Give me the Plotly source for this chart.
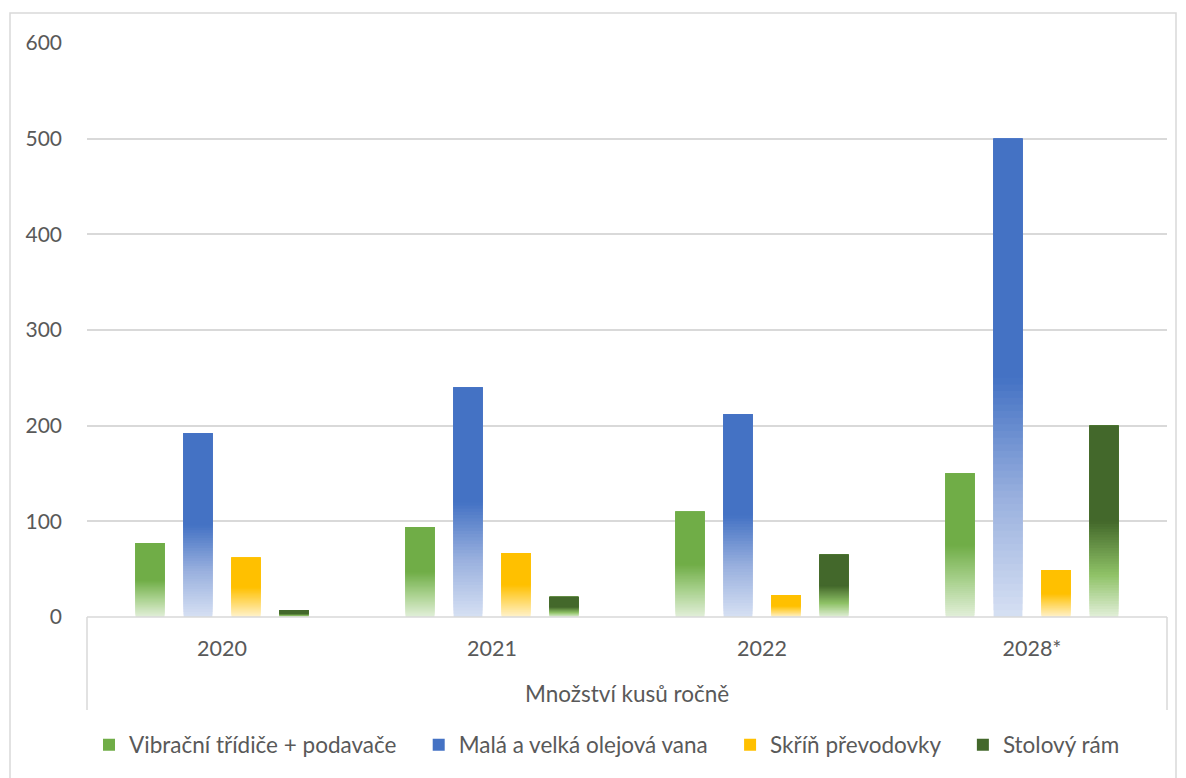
import plotly.graph_objects as go

# Annual quantities (pieces per year)
years = ["2020", "2021", "2022", "2028*"]
vibracni = [77, 94, 110, 150]
olejova_vana = [192, 240, 212, 500]
skrin = [62, 67, 23, 49]
stolovy_ram = [7, 21, 65, 200]
y_ticks = [0, 100, 200, 300, 400, 500, 600]

# name, values, gradient stops (fraction of bar height from the bottom -> colour)
series = [
    ("Vibrační třídiče + podavače", vibracni,
     [(0.0, "#e2efd9"), (0.25, "#a9d18e"), (0.5, "#70ad47")]),
    ("Malá a velká olejová vana", olejova_vana,
     [(0.0, "#d6e0f3"), (0.25, "#99b0de"), (0.5, "#4472c4")]),
    ("Skříň převodovky", skrin,
     [(0.0, "#fff2cc"), (0.25, "#ffd966"), (0.5, "#ffc000")]),
    ("Stolový rám", stolovy_ram,
     [(0.0, "#e2efd9"), (0.22, "#8fc267"), (0.5, "#43682b")]),
]

FONT = "Lato, 'Open Sans', sans-serif"
TEXT = "#595959"
GRID = "#d9d9d9"
STEPS = 36
PAD = "\u00a0" * 3  # extra room between legend entries


def hex_rgb(h):
    h = h.lstrip("#")
    return tuple(int(h[i:i + 2], 16) for i in (0, 2, 4))


def color_at(stops, p):
    for (p0, c0), (p1, c1) in zip(stops, stops[1:]):
        if p <= p1:
            t = (p - p0) / (p1 - p0)
            a, b = hex_rgb(c0), hex_rgb(c1)
            return "rgb(%d,%d,%d)" % tuple(round(x + (y - x) * t) for x, y in zip(a, b))
    return stops[-1][1]


fig = go.Figure()

for gi, (name, vals, stops) in enumerate(series):
    solid_from = stops[-1][0]
    # overlapping bars, each starting a little higher, build the vertical fade
    for k in range(STEPS):
        p = solid_from * k / STEPS
        pm = solid_from * (k + 0.5) / STEPS
        fig.add_trace(go.Bar(
            x=years,
            y=[v * (1 - p) for v in vals],
            base=[v * p for v in vals],
            offsetgroup=str(gi),
            marker=dict(color=color_at(stops, pm), line=dict(width=0)),
            showlegend=False,
            hoverinfo="skip",
        ))
    label = name + (PAD if gi < len(series) - 1 else "")
    fig.add_trace(go.Bar(
        x=years,
        y=[v * (1 - solid_from) for v in vals],
        base=[v * solid_from for v in vals],
        offsetgroup=str(gi),
        name=label,
        marker=dict(color=stops[-1][1], line=dict(width=0)),
        customdata=vals,
        hovertemplate="%{x}: %{customdata}<extra>" + name + "</extra>",
    ))

L, R, T, B = 87, 19, 43, 161
W, H = 1186, 778
plot_h = H - T - B


def py(px_y):
    return (H - B - px_y) / plot_h


def px(px_x):
    return (px_x - L) / (W - L - R)


line = dict(color=GRID, width=1.5)
shapes = [
    # outer frame
    dict(type="rect", xref="paper", yref="paper", x0=px(10), x1=px(1176),
         y0=py(790), y1=py(13), line=dict(color=GRID, width=1.5), layer="below"),
    # category axis box sides
    dict(type="line", xref="paper", yref="paper", x0=0, x1=0, y0=0, y1=py(710), line=line),
    dict(type="line", xref="paper", yref="paper", x0=1, x1=1, y0=0, y1=py(710), line=line),
    dict(type="line", xref="paper", yref="paper", x0=0, x1=1, y0=0, y1=0, line=line),
]

fig.update_layout(
    width=W, height=H,
    margin=dict(l=L, r=R, t=T, b=B),
    paper_bgcolor="white", plot_bgcolor="white",
    barmode="group", bargap=0.289, bargroupgap=0.4,
    font=dict(family=FONT, size=21.5, color=TEXT),
    shapes=shapes,
    annotations=[dict(text="Množství kusů ročně", xref="paper", yref="paper",
                      x=0.5, y=py(693), showarrow=False, xanchor="center",
                      yanchor="middle", font=dict(family=FONT, size=22.5, color=TEXT))],
    legend=dict(orientation="h", xanchor="center", x=px(607), yanchor="middle",
                y=py(745), font=dict(family=FONT, size=22.5, color=TEXT),
                itemwidth=30, bgcolor="rgba(0,0,0,0)"),
    xaxis=dict(type="category", showline=False, showgrid=False, ticks="",
               ticklabelstandoff=16, tickfont=dict(family=FONT, size=21.5, color=TEXT)),
    yaxis=dict(range=[0, 600], tickvals=y_ticks, showgrid=True, gridcolor=GRID,
               gridwidth=1.5, zeroline=False, showline=False, ticks="",
               ticklabelstandoff=24, tickfont=dict(family=FONT, size=21, color=TEXT)),
)

fig.write_html("out.html")
